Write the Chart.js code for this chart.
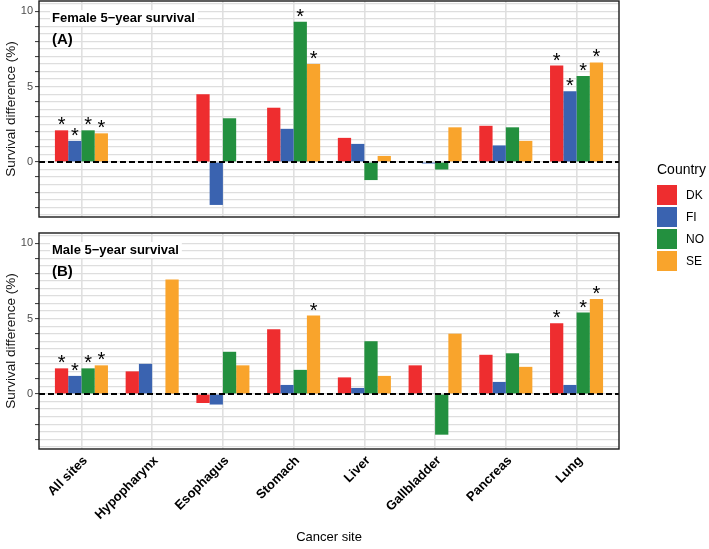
<!DOCTYPE html>
<html>
<head>
<meta charset="utf-8">
<script src="https://cdn.jsdelivr.net/npm/chart.js@4"></script>
<style>
  body { margin:0; background:#fff; width:709px; height:549px; position:relative; overflow:hidden;
         font-family:"Liberation Sans", Arial, sans-serif; }
  canvas { position:absolute; left:0; }
  #c1 { top:0; }
  #c2 { top:225px; }
  #legend { position:absolute; left:657px; top:161px; color:#000; }
  #legend .lt { font-size:14px; line-height:17px; margin-bottom:7px; }
  #legend .it { position:relative; height:20px; margin-bottom:2px; }
  #legend .sw { position:absolute; left:0; top:0; width:20px; height:20px; }
  #legend .lb { position:absolute; left:29px; top:0; line-height:20px; font-size:12px; }
</style>
</head>
<body>
<canvas id="c1" width="709" height="225"></canvas>
<canvas id="c2" width="709" height="324"></canvas>
<div id="legend"></div>
<script>
// ---------- data ----------
const categories = ['All sites','Hypopharynx','Esophagus','Stomach','Liver','Gallbladder','Pancreas','Lung'];
const countries  = ['DK','FI','NO','SE'];
const colors     = ['#EE2D2F','#3A63B0','#23903F','#F9A42C'];

// Female 5-year survival difference (%)
const femaleDK = [2.1, null, 4.5, 3.6, 1.6, null, 2.4, 6.4];
const femaleFI = [1.4, null, -2.85, 2.2, 1.2, -0.1, 1.1, 4.7];
const femaleNO = [2.1, null, 2.9, 9.3, -1.2, -0.5, 2.3, 5.7];
const femaleSE = [1.9, null, null, 6.5, 0.4, 2.3, 1.4, 6.6];
// significance flags (asterisks)
const femaleSigDK = [1,0,0,0,0,0,0,1];
const femaleSigFI = [1,0,0,0,0,0,0,1];
const femaleSigNO = [1,0,0,1,0,0,0,1];
const femaleSigSE = [1,0,0,1,0,0,0,1];

// Male 5-year survival difference (%)
const maleDK = [1.7, 1.5, -0.6, 4.3, 1.1, 1.9, 2.6, 4.7];
const maleFI = [1.2, 2.0, -0.7, 0.6, 0.4, 0.05, 0.8, 0.6];
const maleNO = [1.7, null, 2.8, 1.6, 3.5, -2.7, 2.7, 5.4];
const maleSE = [1.9, 7.6, 1.9, 5.2, 1.2, 4.0, 1.8, 6.3];
const maleSigDK = [1,0,0,0,0,0,0,1];
const maleSigFI = [1,0,0,0,0,0,0,0];
const maleSigNO = [1,0,0,0,0,0,0,1];
const maleSigSE = [1,0,0,1,0,0,0,1];

// y-axis tick / grid values and labels
const yGridValues = [-3.5,-3,-2.5,-2,-1.5,-1,-0.5,0,0.5,1,1.5,2,2.5,3,3.5,4,4.5,5,5.5,6,6.5,7,7.5,8,8.5,9,9.5,10,10.5];
const yLabelValues = [0, 5, 10];
const yMin = -3.65, yMax = 10.68;

const FAMILY = '"Liberation Sans", Arial, sans-serif';
Chart.defaults.font.family = FAMILY;

// ---------- legend (HTML) ----------
(function(){
  const lg = document.getElementById('legend');
  let h = '<div class="lt">Country</div>';
  countries.forEach((c,i)=>{
    h += '<div class="it"><div class="sw" style="background:'+colors[i]+'"></div><div class="lb">'+c+'</div></div>';
  });
  lg.innerHTML = h;
})();

// ---------- panel plugin ----------
const panelPlugin = {
  id: 'panel',
  afterDatasetsDraw(chart, args, opts) {
    const {ctx, chartArea: a, scales: {y}} = chart;
    ctx.save();
    // zero dashed line
    const y0 = y.getPixelForValue(0);
    ctx.strokeStyle = '#000';
    ctx.lineWidth = 2;
    ctx.setLineDash([6, 3]);
    ctx.beginPath();
    ctx.moveTo(a.left, y0);
    ctx.lineTo(a.right, y0);
    ctx.stroke();
    ctx.setLineDash([]);
    // asterisks
    ctx.fillStyle = '#000';
    ctx.font = '20px ' + FAMILY;
    ctx.textAlign = 'center';
    ctx.textBaseline = 'alphabetic';
    chart.data.datasets.forEach((ds, i) => {
      const meta = chart.getDatasetMeta(i);
      ds.sig.forEach((s, j) => {
        if (s && ds.data[j].y !== null) {
          const el = meta.data[j];
          ctx.fillText('*', el.x, el.y + 1);
        }
      });
    });
    // label box
    ctx.font = 'bold 13px ' + FAMILY;
    ctx.textAlign = 'left';
    ctx.textBaseline = 'middle';
    const w = ctx.measureText(opts.title).width;
    ctx.fillStyle = '#fff';
    ctx.fillRect(a.left + 11, a.top + 9, w + 5, 16);
    ctx.fillStyle = '#000';
    ctx.fillText(opts.title, a.left + 13, a.top + 17.5);
    ctx.font = 'bold 15px ' + FAMILY;
    ctx.fillText(opts.tag, a.left + 13, a.top + 39);
    // panel border
    ctx.strokeStyle = '#1a1a1a';
    ctx.lineWidth = 1.4;
    ctx.strokeRect(a.left, a.top, a.right - a.left, a.bottom - a.top);
    ctx.restore();
  }
};

function buildDatasets(series, sigs) {
  return countries.map((c, i) => ({
    label: c,
    data: series[i].map((v, k) => ({x: k, y: v})),
    sig: sigs[i],
    backgroundColor: colors[i],
    borderWidth: 0
  }));
}

function zeroPad(s) { s.paddingTop = 0; s.paddingBottom = 0; s.paddingLeft = 0; s.paddingRight = 0; }

function makeOptions(showX, title, tag) {
  return {
    responsive: false,
    animation: false,
    layout: { padding: { left: 0, right: 90, top: showX ? 8 : 1, bottom: showX ? 0 : 8 } },
    plugins: { legend: { display: false }, tooltip: { enabled: false }, panel: { title, tag } },
    datasets: { bar: { categoryPercentage: 0.75, barPercentage: 1, grouped: true } },
    scales: {
      x: {
        type: 'linear', min: -0.6, max: 7.6, offset: false,
        afterBuildTicks(s) { s.ticks = categories.map((_, i) => ({ value: i })); },
        afterFit(s) { s.height = showX ? 100 : 0; zeroPad(s); },
        ticks: {
          display: showX, autoSkip: false, minRotation: 45, maxRotation: 45,
          color: '#000', padding: 4, labelOffset: 4,
          font: { size: 13, weight: 'bold', family: FAMILY },
          callback: (v) => categories[v]
        },
        grid: { color: '#E0E0E0', lineWidth: 1.6, drawTicks: false, offset: false },
        border: { display: false },
        title: { display: showX, text: 'Cancer site', color: '#000',
                 font: { size: 13, family: FAMILY }, padding: { top: 0, bottom: 4 } }
      },
      y: {
        min: yMin, max: yMax,
        afterBuildTicks(s) { s.ticks = yGridValues.map(v => ({ value: v })); },
        afterFit(s) { s.width = 39; zeroPad(s); },
        ticks: {
          autoSkip: false,
          color: '#4D4D4D', padding: 2, font: { size: 11, family: FAMILY },
          callback: (v) => yLabelValues.includes(v) ? String(v) : ''
        },
        grid: {
          color: '#DEDEDE', lineWidth: 1.2, drawTicks: true, tickLength: 4,
          tickColor: (ctx) => (ctx.tick && Number.isInteger(ctx.tick.value)) ? '#333333' : 'rgba(0,0,0,0)',
          tickWidth: 1
        },
        border: { display: false },
        title: { display: true, text: 'Survival difference (%)', color: '#111',
                 font: { size: 13.5, family: FAMILY }, padding: { top: 3, bottom: 0 } }
      }
    }
  };
}

new Chart(document.getElementById('c1'), {
  type: 'bar',
  data: { datasets: buildDatasets([femaleDK, femaleFI, femaleNO, femaleSE],
                                  [femaleSigDK, femaleSigFI, femaleSigNO, femaleSigSE]) },
  options: makeOptions(false, 'Female 5\u2212year survival', '(A)'),
  plugins: [panelPlugin]
});

new Chart(document.getElementById('c2'), {
  type: 'bar',
  data: { datasets: buildDatasets([maleDK, maleFI, maleNO, maleSE],
                                  [maleSigDK, maleSigFI, maleSigNO, maleSigSE]) },
  options: makeOptions(true, 'Male 5\u2212year survival', '(B)'),
  plugins: [panelPlugin]
});
</script>
</body>
</html>
